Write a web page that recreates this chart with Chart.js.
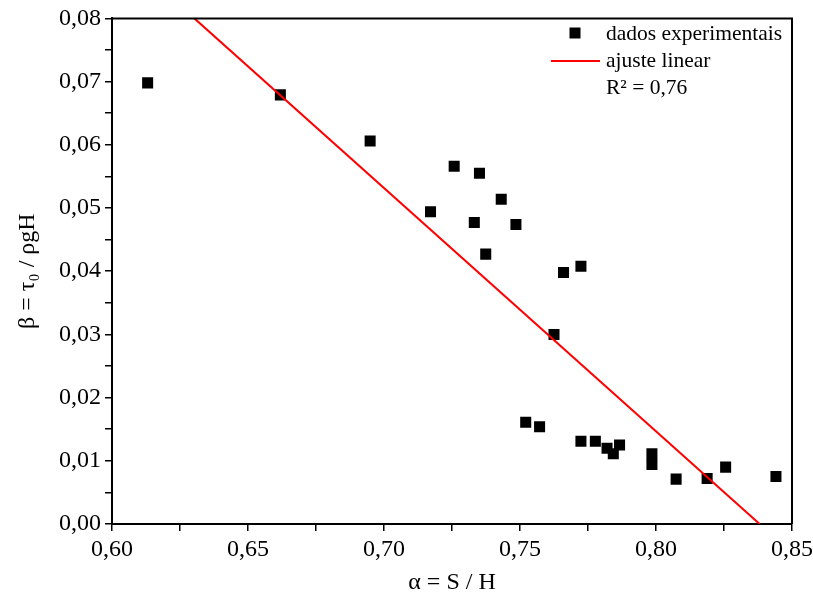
<!DOCTYPE html>
<html>
<head>
<meta charset="utf-8">
<script src="https://cdn.jsdelivr.net/npm/chart.js@4.4.0/dist/chart.umd.min.js"></script>
<style>
  html, body { margin: 0; padding: 0; background: #fff; }
</style>
</head>
<body>
<canvas id="chart" width="813" height="608"></canvas>
<script>
// experimental points (alpha = S/H, beta = tau0 / rho g H)
const alpha = [0.6131, 0.6619, 0.6949, 0.7171, 0.7258, 0.7351, 0.7431, 0.7332, 0.7485, 0.7374,
  0.7660, 0.7724, 0.7625, 0.7521, 0.7572, 0.7724, 0.7777, 0.7820, 0.7866, 0.7843,
  0.7985, 0.7985, 0.8074, 0.8188, 0.8256, 0.8441];
const beta = [0.0698, 0.0679, 0.0606, 0.0494, 0.0566, 0.0555, 0.0514, 0.0477, 0.0474, 0.0427,
  0.0398, 0.0408, 0.0300, 0.0161, 0.0154, 0.0131, 0.0131, 0.0120, 0.0125, 0.0111,
  0.0111, 0.0094, 0.0071, 0.0072, 0.0090, 0.0075];

// linear fit, end points
const fitAlpha = [0.6303, 0.8381];
const fitBeta = [0.08, 0.0];
const r2Text = 'R² = 0,76';

const serif = 'Liberation Serif, Times New Roman, serif';
const fmt = v => v.toFixed(2).replace('.', ',');

const frameAndLegend = {
  id: 'frameAndLegend',
  afterDraw(chart) {
    const { ctx, chartArea: a } = chart;
    ctx.save();
    ctx.strokeStyle = '#000';
    ctx.lineWidth = 2;
    ctx.beginPath();
    ctx.moveTo(a.left, a.top);
    ctx.lineTo(a.right, a.top);
    ctx.lineTo(a.right, a.bottom);
    ctx.stroke();

    // legend inside the plot, top right
    const ds = chart.data.datasets;
    const tx = 606;
    ctx.font = '21.5px ' + serif;
    ctx.textBaseline = 'middle';
    ctx.fillStyle = '#000';
    ctx.fillRect(575 - 5.5, 33 - 5.5, 11, 11);
    ctx.fillText(ds[0].label, tx, 34);
    ctx.strokeStyle = ds[1].borderColor;
    ctx.lineWidth = 2;
    ctx.beginPath();
    ctx.moveTo(551, 61);
    ctx.lineTo(600, 61);
    ctx.stroke();
    ctx.fillText(ds[1].label, tx, 61);
    ctx.fillText(r2Text, tx, 88);
    ctx.restore();
  }
};

new Chart(document.getElementById('chart'), {
  type: 'scatter',
  data: {
    datasets: [
      {
        label: 'dados experimentais',
        data: alpha.map((x, i) => ({ x, y: beta[i] })),
        pointStyle: 'rect',
        pointRadius: 7.8,
        pointHoverRadius: 7.8,
        backgroundColor: '#000',
        borderColor: '#000',
        borderWidth: 0,
        order: 2
      },
      {
        label: 'ajuste linear',
        data: fitAlpha.map((x, i) => ({ x, y: fitBeta[i] })),
        showLine: true,
        pointRadius: 0,
        borderColor: '#ff0000',
        borderWidth: 2,
        order: 1
      }
    ]
  },
  options: {
    responsive: false,
    animation: false,
    layout: { padding: { top: 17, right: 21, left: 0, bottom: 0 } },
    plugins: {
      legend: { display: false },
      tooltip: { enabled: false }
    },
    scales: {
      x: {
        type: 'linear',
        min: 0.6,
        max: 0.85,
        afterFit(s) { s.height = 84; s.paddingRight = 0; s.paddingLeft = 0; },
        border: { display: true, color: '#000', width: 2 },
        grid: { drawOnChartArea: false, drawTicks: true, tickLength: 7, color: '#000', lineWidth: 1.5 },
        ticks: {
          stepSize: 0.025,
          color: '#000',
          font: { family: serif, size: 24 },
          padding: 4,
          maxRotation: 0,
          autoSkip: false,
          callback: v => (Math.round(v * 1000) % 50 === 0 ? fmt(v) : '')
        },
        title: {
          display: true,
          text: 'α = S / H',
          color: '#000',
          font: { family: serif, size: 24 },
          padding: { top: 0, bottom: 11 }
        }
      },
      y: {
        type: 'linear',
        min: 0,
        max: 0.08,
        afterFit(s) { s.width = 112; },
        border: { display: true, color: '#000', width: 2 },
        grid: { drawOnChartArea: false, drawTicks: true, tickLength: 7, color: '#000', lineWidth: 1.5 },
        ticks: {
          stepSize: 0.005,
          color: '#000',
          font: { family: serif, size: 24 },
          padding: 4,
          autoSkip: false,
          callback: v => (Math.round(v * 1000) % 10 === 0 ? fmt(v) : '')
        },
        title: {
          display: true,
          text: 'β = τ₀ / ρgH',
          color: '#000',
          font: { family: serif, size: 24 },
          padding: { top: 13, bottom: 0 }
        }
      }
    }
  },
  plugins: [frameAndLegend]
});
</script>
</body>
</html>
